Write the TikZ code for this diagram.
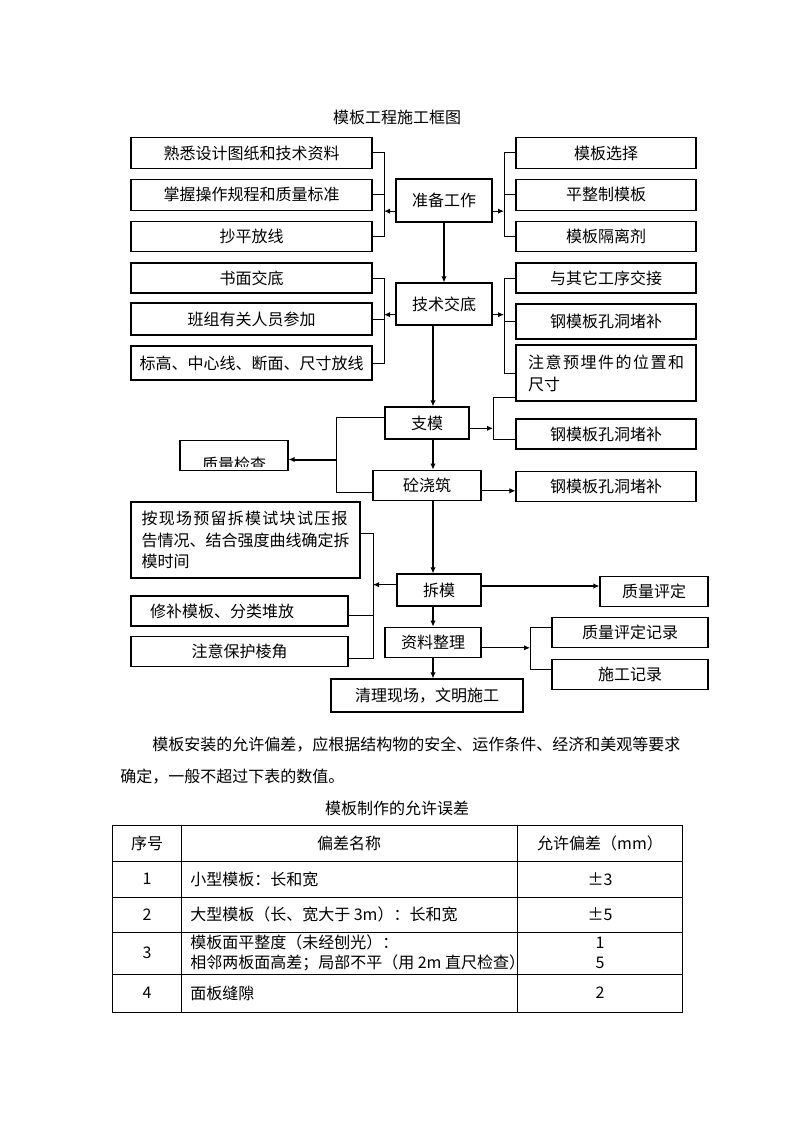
\documentclass[tikz,border=0pt]{standalone}
\usepackage{fontspec}
\setmainfont{Noto Sans CJK SC}
\usetikzlibrary{arrows.meta}

\begin{document}
\begin{tikzpicture}[
		x=0.75pt,
		y=-0.75pt,
		font=\fontsize{12pt}{16pt}\selectfont,
		box/.style={
		  draw,
		  inner sep=0pt,
		  line width=0.8pt,
		  minimum height=23pt
		  },
		lbox/.style={
		  box,
		  minimum width=180.75pt
		  },
		rbox/.style={
		  box,
		  minimum width=135pt
		  },
		txt/.style={
		  inner sep=0pt
		  },
		link/.style={
		  line width=0.75pt
		  },
		main/.style={
		  line width=1.5pt
		  },
		>={Latex[length=4.5pt,width=4pt]}
		]
	\useasboundingbox (0,0) rectangle (794,1123);
	\node[txt] (title) at (397,117) {模板工程施工框图};
	\foreach \t [count=\i] in {熟悉设计图纸和技术资料,掌握操作规程和质量标准,抄平放线}
	  \node[lbox] (l\i) at (251.5,111.25+41.75*\i) {\t};
	\foreach \t [count=\i] in {模板选择,平整制模板,模板隔离剂}
	  \node[rbox] (r\i) at (606,111.25+41.75*\i) {\t};
	\node[lbox,minimum height=22.5pt] (l4) at (251.5,278) {书面交底};
	\node[lbox,minimum height=24pt] (l5) at (251.5,319) {班组有关人员参加};
	\node[lbox,minimum height=25.5pt] (l6) at (251.5,363) {标高、中心线、断面、尺寸放线};
	\node[rbox,minimum height=22.5pt] (r4) at (606,278) {与其它工序交接};
	\node[rbox,minimum height=26.25pt] (r5) at (606,321.5) {钢模板孔洞堵补};
	\node[box,minimum height=42pt,inner xsep=9pt,text width=117pt,align=left,font=\fontsize{12pt}{16.5pt}\selectfont] (r6) at (606,373) {{\addfontfeature{LetterSpace=9.5}注意预埋件的位置和}\\尺寸};
	\node[box,minimum width=72pt,minimum height=32.25pt] (prep) at (444,200.5) {准备工作};
	\node[box,minimum width=72pt,minimum height=31.5pt] (tech) at (444,304) {技术交底};
	\node[box,minimum width=63pt,minimum height=24pt] (zhimo) at (427,423) {支模};
	\node[rbox,minimum height=22.5pt] (r7) at (606,434) {钢模板孔洞堵补};
	\node[box,minimum width=81pt] (check) at (234,455.5) {};
	\begin{scope}
	  \clip (check.north west) rectangle ([yshift=3.75pt]check.south east);
	  \node[txt] (checktext) at ([yshift=-7pt]check.center) {质量检查};
	\end{scope}
	\node[box,minimum width=81pt] (pour) at (427,485.5) {砼浇筑};
	\node[rbox] (r8) at (606,486.5) {钢模板孔洞堵补};
	\node[box,minimum width=171.75pt,minimum height=57pt,align=left] (l7) at (245.5,540) {{\addfontfeature{LetterSpace=8}按现场预留拆模试块试压报}\\告情况、结合强度曲线确定拆\\模时间};
	\node[box,minimum width=63pt,minimum height=24pt] (demold) at (439,590) {拆模};
	\node[box,minimum width=81pt] (quality) at (654,591.5) {质量评定};
	\node[box,inner xsep=14.25pt,text width=134.25pt,align=left,minimum height=22.5pt] (l8) at (239.5,611) {修补模板、分类堆放};
	\node[box,minimum width=162.75pt] (l9) at (239.5,651.5) {注意保护棱角};
	\node[box,minimum width=72pt] (records) at (433,642.5) {资料整理};
	\node[box,minimum width=117pt] (r9) at (630,632.5) {质量评定记录};
	\node[box,minimum width=117pt] (r10) at (630,674.5) {施工记录};
	\node[box,minimum width=144pt,minimum height=24.75pt] (clean) at (427,695.5) {清理现场，文明施工};
	\coordinate (spine) at (433,0);
	\coordinate (bl) at (384,0);
	\coordinate (br) at (504,0);
	\coordinate (bq) at (336,0);
	\coordinate (bz) at (493,0);
	\coordinate (bd) at (373,0);
	\coordinate (bs) at (530,0);
	\foreach \a/\b in {l1/l3,l4/l6}
	  \draw[link] (\a.east) -| (bl |- \b.east) -- (\b.east);
	\foreach \a/\b in {r1/r3,r4/r6}
	  \draw[link] (\a.west) -| (br |- \b.west) -- (\b.west);
	\foreach \a in {l2,l5}
	  \draw[link] (\a.east) -- (\a.east -| bl);
	\foreach \a in {r2,r5}
	  \draw[link] (\a.west) -- (\a.west -| br);
	\foreach \n in {prep,tech}
	{\coordinate (\n-w) at ([yshift=-8pt]\n.west);
	 \coordinate (\n-e) at ([yshift=-8pt]\n.east);
	 \draw[link,->] (\n-w) -- (\n-w -| bl);
	 \draw[link,->] (\n-e) -- (\n-e -| br);
	}
	\draw[main,->] (prep.south) -- (tech.north);
	\foreach \a/\b in {tech/zhimo,zhimo/pour,pour/demold,demold/records,records/clean}
	  \draw[main,->] (\a.south -| spine) -- (\b.north -| spine);
	\coordinate (zhimo-w) at ([yshift=4pt]zhimo.west);
	\coordinate (pour-w) at ([yshift=-5pt]pour.west);
	\coordinate (check-e) at ([yshift=-3pt]check.east);
	\draw[link] (zhimo-w) -| (bq |- pour-w) -- (pour-w);
	\draw[main,->] (bq |- check-e) -- (check-e);
	\coordinate (zhimo-e) at ([yshift=-4pt]zhimo.east);
	\coordinate (r6-s) at ([yshift=-18pt]r6.west);
	\coordinate (r7-w) at ([yshift=-4pt]r7.west);
	\draw[link,->] (zhimo-e) -- (zhimo-e -| bz);
	\draw[link] (r6-s) -| (bz |- r7-w) -- (r7-w);
	\coordinate (pour-e) at ([yshift=-4pt]pour.east);
	\draw[link,->] (pour-e) -- (pour-e -| r8.west);
	\coordinate (l7-e) at ([yshift=5pt]l7.east);
	\coordinate (l8-e) at ([yshift=-3pt]l8.east);
	\coordinate (l9-e) at ([yshift=-5.5pt]l9.east);
	\coordinate (demold-w) at ([yshift=4pt]demold.west);
	\coordinate (demold-e) at ([yshift=3pt]demold.east);
	\draw[link] (l7-e) -| (bd |- l9-e) -- (l9-e);
	\draw[link] (l8-e) -- (l8-e -| bd);
	\draw[link,->] (demold-w) -- (demold-w -| bd);
	\draw[main,->] (demold-e) -- (demold-e -| quality.west);
	\coordinate (records-e) at ([yshift=-4pt]records.east);
	\coordinate (r9-w) at ([yshift=4pt]r9.west);
	\coordinate (r10-w) at ([yshift=4pt]r10.west);
	\draw[link,->] (records-e) -- (records-e -| bs);
	\draw[link] (r9-w) -| (bs |- r10-w) -- (r10-w);
	\node[txt,anchor=west] (para1) at (152,745) {模板安装的允许偏差，应根据结构物的安全、运作条件、经济和美观等要求};
	\node[txt,anchor=west] (para2) at (120,777) {确定，一般不超过下表的数值。};
	\node[txt] (tabtitle) at (397,808) {模板制作的允许误差};
	\draw[link] (112,825) rectangle (682,1012);
	\foreach \y in {861,897,932,974}
	  \draw[link] (112,\y) -- (682,\y);
	\foreach \x in {181,517}
	  \draw[link] (\x,825) -- (\x,1012);
	\node[txt] (h1) at (147,843) {序号};
	\node[txt] (h2) at (349,843) {偏差名称};
	\node[txt] (h3) at (600,843) {允许偏差（mm）};
	\foreach \n/\y in {1/879,2/914.5,3/953,4/993}
	  \node[txt] (n\n) at (147,\y) {\n};
	\node[txt,anchor=west] (d1) at (190,879) {小型模板：长和宽};
	\node[txt,anchor=west] (d2) at (190,914.5) {大型模板（长、宽大于 3m）：长和宽};
	\node[txt,anchor=west,align=left,font=\fontsize{12pt}{15pt}\selectfont] (d3) at (190,953) {模板面平整度（未经刨光）：\\相邻两板面高差；局部不平（用 2m 直尺检查）};
	\node[txt,anchor=west] (d4) at (190,993) {面板缝隙};
	\node[txt] (v1) at (600,879) {±3};
	\node[txt] (v2) at (600,914.5) {±5};
	\node[txt,align=center,font=\fontsize{12pt}{15pt}\selectfont] (v3) at (600,953) {1\\5};
	\node[txt] (v4) at (600,993) {2};
\end{tikzpicture}
\end{document}
